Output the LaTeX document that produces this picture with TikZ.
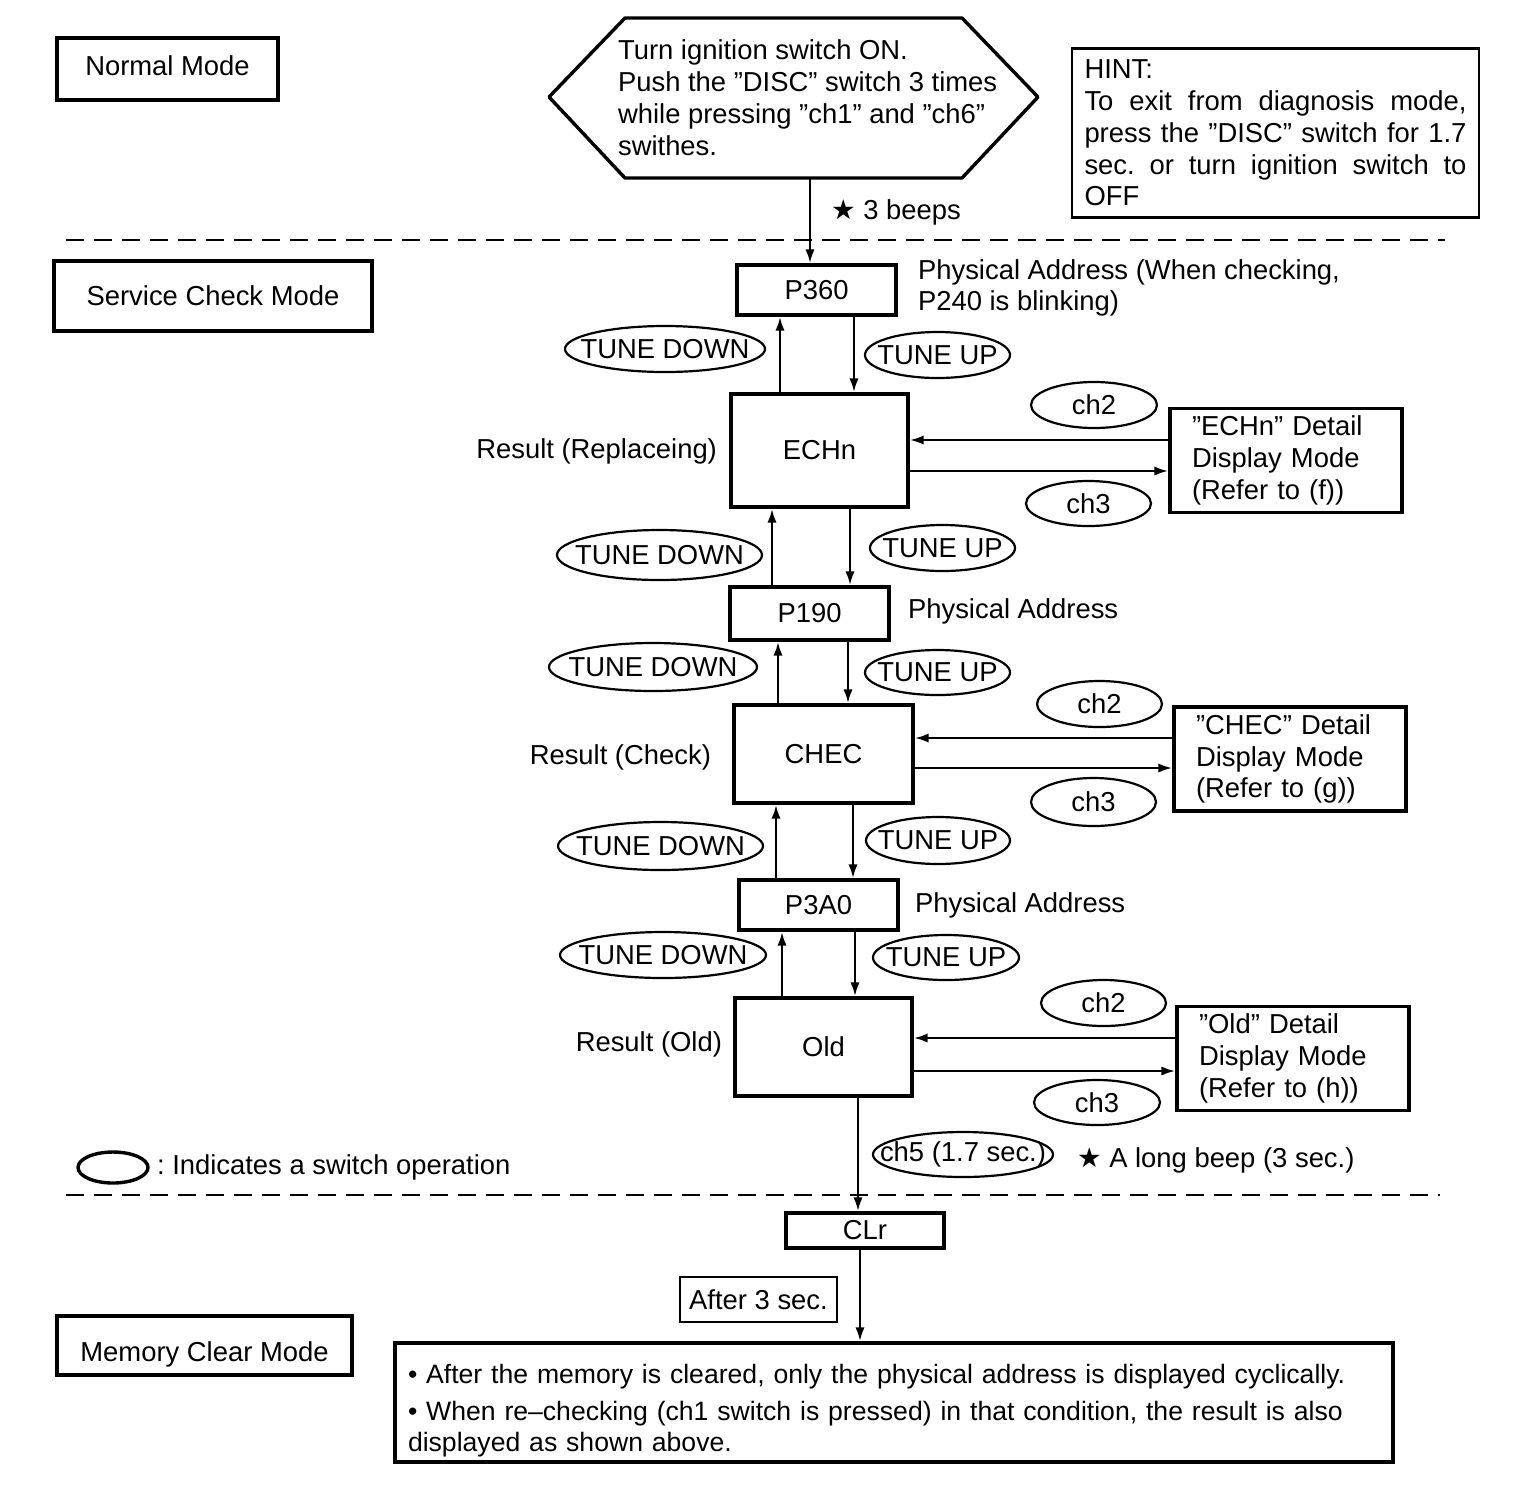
\documentclass[tikz,border=0pt]{standalone}
\usepackage{fontspec}
\setmainfont{Liberation Sans}
\newfontfamily\starfont{DejaVu Sans}
\usetikzlibrary{positioning, arrows.meta, calc, shapes.geometric}

\newcommand{\dgfont}{\fontsize{13.7pt}{15.9pt}\selectfont}
\newcommand{\swlbl}[1]{\makebox[0pt]{#1}}
\newcommand{\dgstar}{{\starfont\char"2605}}

\tikzset{
  box/.style={draw, line width=1.6pt, inner sep=0pt, align=center},
  detail/.style={box, minimum width=116pt, minimum height=52pt, text width=94pt, align=left},
  sw/.style={draw, ellipse, line width=1.1pt, inner sep=0pt},
  arr/.style={line width=1.3pt, -{Latex[length=7pt,width=4.6pt]}},
  modesep/.style={line width=1pt, dash pattern=on 9pt off 5pt},
}

\begin{document}
\frenchspacing
\begin{tikzpicture}[x=0.5pt, y=-0.5pt, font=\dgfont]
  \useasboundingbox (0,0) rectangle (1536,1490);

  % mode boxes
  \node[box, minimum width=110.5pt, minimum height=31pt, text depth=3pt] (normal) at (167.5,69) {Normal Mode};
  \node[box, minimum width=159pt, minimum height=35pt] (service) at (213,296) {Service Check Mode};
  \node[box, minimum width=147.5pt, minimum height=29.5pt, text height=19pt] (memclear) at (204.5,1345.5) {Memory Clear Mode};

  % start
  \draw[line width=1.7pt, line join=round] (549,97) -- (625,18) -- (962,18)
    -- (1038,97) -- (962,178) -- (625,178) -- cycle;
  \node[align=left, anchor=west] (hexa) at (611,97.5)
    {Turn ignition switch ON.\\Push the ”DISC” switch 3 times\\while pressing ”ch1” and ”ch6”\\swithes.};
  \coordinate (hexa b) at (810,178);

  \node[box, line width=1.3pt, minimum width=203.5pt, minimum height=84.5pt,
    text width=191pt, align=justify] (hint) at (1275.5,133)
    {HINT:\\To exit from diagnosis mode,\linebreak press the ”DISC” switch for 1.7\linebreak sec. or turn ignition switch to\linebreak OFF};

  \node[anchor=west] (beeps) at (824,212) {\dgstar{} 3 beeps};

  % separators
  \draw[modesep] (66,240) -- (1445,240);
  \draw[modesep] (66,1195) -- (1440,1195);

  % addresses and results
  \node[box, minimum width=79.5pt, minimum height=25pt] (p360) at (816.5,290) {P360};
  \node[box, minimum width=88.5pt, minimum height=56.5pt] (echn) at (819.5,450.5) {ECHn};
  \node[box, minimum width=79.5pt, minimum height=26.5pt] (p190) at (809.5,613.5) {P190};
  \node[box, minimum width=89.5pt, minimum height=49pt] (chec) at (823.5,754) {CHEC};
  \node[box, minimum width=79.5pt, minimum height=25pt] (p3a0) at (818.5,905) {P3A0};
  \node[box, minimum width=88.5pt, minimum height=49pt] (old) at (823.5,1047) {Old};
  \node[box, minimum width=79pt, minimum height=17.5pt] (clr) at (865,1230.5) {CLr};

  \node[align=left, anchor=west] (pa1) at (911,288) {Physical Address (When checking,\\P240 is blinking)};
  \node[anchor=west] (pa2) at (901,611) {Physical Address};
  \node[anchor=west] (pa3) at (908,905) {Physical Address};
  \node[anchor=east] (res1) at (724,451) {Result (Replaceing)};
  \node[anchor=east] (res2) at (718,757) {Result (Check)};
  \node[anchor=east] (res3) at (729,1044) {Result (Old)};

  % detail modes
  \node[detail] (echnd) at (1286,460.5) {”ECHn” Detail\\Display Mode\\(Refer to (f))};
  \node[detail] (checd) at (1290,759) {”CHEC” Detail\\Display Mode\\(Refer to (g))};
  \node[detail] (oldd) at (1293,1058.5) {”Old” Detail\\Display Mode\\(Refer to (h))};

  % switch operations
  \node[sw, minimum width=100pt, minimum height=23pt] (td1) at (665,349) {\swlbl{TUNE DOWN}};
  \node[sw, minimum width=72.5pt, minimum height=23pt] (tu1) at (937.5,355) {\swlbl{TUNE UP}};
  \node[sw, minimum width=102.5pt, minimum height=25pt] (td2) at (659.5,555) {\swlbl{TUNE DOWN}};
  \node[sw, minimum width=72.5pt, minimum height=23pt] (tu2) at (942.5,548) {\swlbl{TUNE UP}};
  \node[sw, minimum width=104pt, minimum height=24pt] (td3) at (653,667) {\swlbl{TUNE DOWN}};
  \node[sw, minimum width=72.5pt, minimum height=22.5pt] (tu3) at (937.5,672.5) {\swlbl{TUNE UP}};
  \node[sw, minimum width=102.5pt, minimum height=24pt] (td4) at (660.5,846) {\swlbl{TUNE DOWN}};
  \node[sw, minimum width=72pt, minimum height=23.5pt] (tu4) at (938,840.5) {\swlbl{TUNE UP}};
  \node[sw, minimum width=103pt, minimum height=23pt] (td5) at (663,955) {\swlbl{TUNE DOWN}};
  \node[sw, minimum width=73pt, minimum height=22.5pt] (tu5) at (946,957.5) {\swlbl{TUNE UP}};

  \node[sw, minimum width=63pt, minimum height=23pt] (ch2a) at (1094,405) {\swlbl{ch2}};
  \node[sw, minimum width=62.5pt, minimum height=22.5pt] (ch3a) at (1088.5,503.5) {\swlbl{ch3}};
  \node[sw, minimum width=62.5pt, minimum height=23pt] (ch2b) at (1099.5,704) {\swlbl{ch2}};
  \node[sw, minimum width=62.5pt, minimum height=24pt] (ch3b) at (1093.5,802) {\swlbl{ch3}};
  \node[sw, minimum width=62.5pt, minimum height=23pt] (ch2c) at (1103.5,1003) {\swlbl{ch2}};
  \node[sw, minimum width=63pt, minimum height=22.5pt] (ch3c) at (1097,1102.5) {\swlbl{ch3}};
  \node[sw, minimum width=90pt, minimum height=22.5pt] (ch5) at (963,1154.5) {\swlbl{ch5 (1.7 sec.)}};

  \node[anchor=west] (longbeep) at (1070,1160) {\dgstar{} A long beep (3 sec.)};

  % legend
  \node[sw, line width=1.7pt, minimum width=35pt, minimum height=15.5pt] (legend) at (113,1167.5) {};
  \node[anchor=west] (legend txt) at (150,1167) {: Indicates a switch operation};

  % memory clear
  \node[box, line width=0.8pt, minimum width=78.5pt, minimum height=22.5pt] (after) at (758.5,1299.5) {After 3 sec.};
  \node[box, minimum width=499pt, minimum height=59.5pt, text width=486pt, align=left,
    font=\fontsize{13.3pt}{15.5pt}\selectfont] (mem) at (894,1402.5)
    {\rule{0pt}{18pt}• After the memory is cleared, only the physical address is displayed cyclically.\\[3pt]
     • When re–checking (ch1 switch is pressed) in that condition, the result is also\\
     displayed as shown above.};

  % flow
  \draw[arr] (hexa b) -- (hexa b |- p360.north);

  \draw[arr] ([xshift=-19.75pt]echn.north) -- ([xshift=-19.75pt]echn.north |- p360.south);
  \draw[arr] ([xshift=17.25pt]echn.north |- p360.south) -- ([xshift=17.25pt]echn.north);

  \draw[arr] ([xshift=-18.75pt]p190.north) -- ([xshift=-18.75pt]p190.north |- echn.south);
  \draw[arr] ([xshift=20.25pt]p190.north |- echn.south) -- ([xshift=20.25pt]p190.north);

  \draw[arr] ([xshift=-22.75pt]chec.north) -- ([xshift=-22.75pt]chec.north |- p190.south);
  \draw[arr] ([xshift=12.25pt]chec.north |- p190.south) -- ([xshift=12.25pt]chec.north);

  \draw[arr] ([xshift=-21.25pt]p3a0.north) -- ([xshift=-21.25pt]p3a0.north |- chec.south);
  \draw[arr] ([xshift=17.25pt]p3a0.north |- chec.south) -- ([xshift=17.25pt]p3a0.north);

  \draw[arr] ([xshift=-20.75pt]old.north) -- ([xshift=-20.75pt]old.north |- p3a0.south);
  \draw[arr] ([xshift=15.75pt]old.north |- p3a0.south) -- ([xshift=15.75pt]old.north);

  \draw[arr] ([yshift=10.25pt]echnd.west) -- ([yshift=10.25pt]echnd.west -| echn.east);
  \draw[arr] ([yshift=-5.25pt]echnd.west -| echn.east) -- ([yshift=-5.25pt]echnd.west);
  \draw[arr] ([yshift=10.5pt]checd.west) -- ([yshift=10.5pt]checd.west -| chec.east);
  \draw[arr] ([yshift=-4.5pt]checd.west -| chec.east) -- ([yshift=-4.5pt]checd.west);
  \draw[arr] ([yshift=10.25pt]oldd.west) -- ([yshift=10.25pt]oldd.west -| old.east);
  \draw[arr] ([yshift=-6.25pt]oldd.west -| old.east) -- ([yshift=-6.25pt]oldd.west);

  \draw[arr] ([xshift=17.25pt]old.south) -- ([xshift=17.25pt]old.south |- clr.north);
  \draw[arr] ([xshift=-2.5pt]clr.south) -- ([xshift=-2.5pt]clr.south |- mem.north);
\end{tikzpicture}
\end{document}
